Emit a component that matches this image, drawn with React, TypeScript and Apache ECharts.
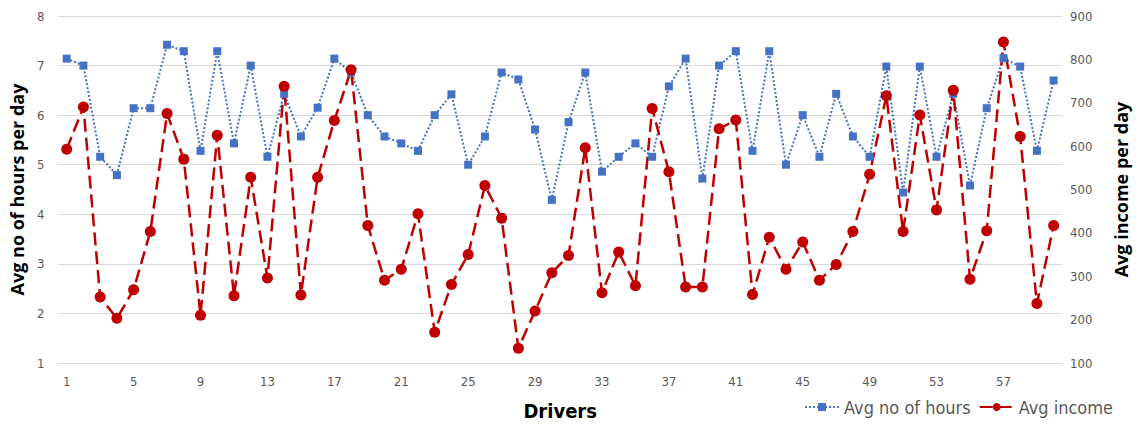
import React, { useEffect, useRef } from "react";
import * as echarts from "echarts";

const drivers: string[] = Array.from({ length: 60 }, (_, i) => String(i + 1));

const avgHours: number[] = [
  7.14, 7.0, 5.16, 4.79, 6.14, 6.14, 7.42, 7.29, 5.28, 7.29,
  5.43, 7.0, 5.16, 6.43, 5.57, 6.15, 7.14, 6.86, 6.0, 5.57,
  5.43, 5.28, 6.0, 6.42, 5.0, 5.57, 6.86, 6.72, 5.71, 4.29,
  5.86, 6.86, 4.86, 5.16, 5.43, 5.16, 6.58, 7.14, 4.72, 7.0,
  7.29, 5.28, 7.29, 5.0, 6.0, 5.16, 6.43, 5.57, 5.16, 6.98,
  4.44, 6.98, 5.16, 6.43, 4.58, 6.14, 7.15, 6.98, 5.28, 6.7,
];

const avgIncome: number[] = [
  593, 690, 252, 203, 269, 403, 675, 570, 210, 625,
  255, 528, 296, 738, 257, 528, 659, 776, 417, 291,
  316, 444, 171, 281, 350, 509, 434, 134, 220, 308,
  348, 596, 262, 356, 278, 687, 541, 275, 275, 640,
  660, 258, 390, 316, 379, 291, 327, 403, 535, 716,
  403, 672, 453, 729, 293, 405, 840, 622, 237, 417,
];

const FONT = "'Liberation Sans Narrow', 'DejaVu Sans Condensed', 'Liberation Sans', sans-serif";
const GREY = "#595959";
const BLUE = "#4472C4";
const RED = "#C00000";

export default function App() {
  const ref = useRef<HTMLDivElement>(null);

  useEffect(() => {
    if (!ref.current) return;
    const chart = echarts.init(ref.current, undefined, { renderer: "svg" });
    chart.setOption({
      animation: false,
      backgroundColor: "#ffffff",
      grid: { left: 55, right: 80, top: 16, bottom: 61 },
      legend: {
        right: 24,
        bottom: 5,
        itemWidth: 34,
        itemHeight: 10,
        itemGap: 8,
        textStyle: { color: GREY, fontSize: 18, fontFamily: FONT },
        data: ["Avg no of hours", "Avg income"],
      },
      xAxis: {
        type: "category",
        data: drivers,
        name: "Drivers",
        nameLocation: "middle",
        nameGap: 38,
        nameTextStyle: { fontSize: 20, fontWeight: "bold", color: "#000", fontFamily: FONT },
        axisLine: { show: false },
        axisTick: { show: false },
        axisLabel: { interval: 3, color: GREY, fontSize: 13, fontFamily: FONT, margin: 12 },
      },
      yAxis: [
        {
          type: "value",
          min: 1,
          max: 8,
          interval: 1,
          name: "Avg no of hours per day",
          nameLocation: "middle",
          nameGap: 28,
          nameTextStyle: { fontSize: 18, fontWeight: "bold", color: "#000", fontFamily: "'Open Sans', sans-serif" },
          axisLine: { show: false },
          axisTick: { show: false },
          axisLabel: { color: GREY, fontSize: 13, fontFamily: FONT, margin: 14 },
          splitLine: { lineStyle: { color: "#d9d9d9", width: 1 } },
        },
        {
          type: "value",
          min: 100,
          max: 900,
          interval: 100,
          name: "Avg income per day",
          nameLocation: "middle",
          nameGap: 50,
          nameRotate: 90,
          nameTextStyle: { fontSize: 18, fontWeight: "bold", color: "#000", fontFamily: "'Open Sans', sans-serif" },
          axisLine: { show: false },
          axisTick: { show: false },
          axisLabel: { color: GREY, fontSize: 13, fontFamily: FONT, margin: 8 },
          splitLine: { show: false },
        },
      ],
      series: [
        {
          name: "Avg no of hours",
          type: "line",
          yAxisIndex: 0,
          data: avgHours,
          symbol: "rect",
          symbolSize: 8,
          itemStyle: { color: BLUE },
          lineStyle: { color: BLUE, width: 2, type: [2, 2] },
        },
        {
          name: "Avg income",
          type: "line",
          yAxisIndex: 1,
          data: avgIncome,
          symbol: "circle",
          symbolSize: 11,
          itemStyle: { color: RED },
          lineStyle: { color: RED, width: 2.5, type: [13, 6] },
        },
      ],
    });
    return () => chart.dispose();
  }, []);

  return (
    <div
      ref={ref}
      style={{ position: "fixed", left: 0, top: 0, width: 1142, height: 426, background: "#fff" }}
    />
  );
}
